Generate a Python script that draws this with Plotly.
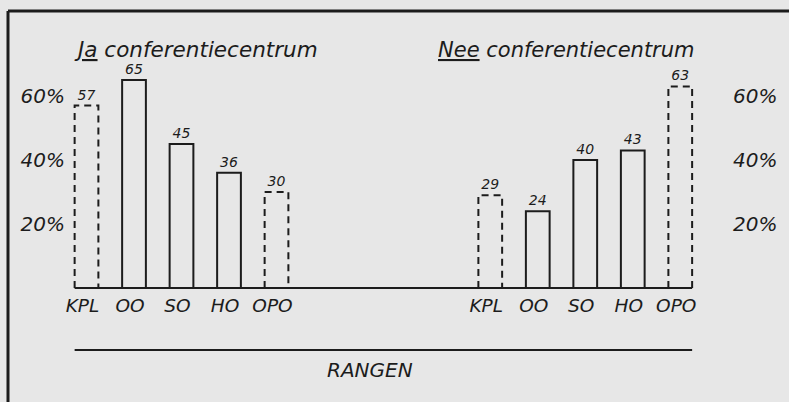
import plotly.graph_objects as go

# ---- data ----
categories = ["KPL", "OO", "SO", "HO", "OPO"]
ja_values = [57, 65, 45, 36, 30]
nee_values = [29, 24, 40, 43, 63]
dashed_categories = ["KPL", "OPO"]
y_tick_values = [20, 40, 60]
y_tick_labels = ["20%", "40%", "60%"]
title_ja = "<u>Ja</u> conferentiecentrum"
title_nee = "<u>Nee</u> conferentiecentrum"
x_title = "RANGEN"

# ---- layout helpers ----
W, H = 789, 402
INK = "#1c1c1c"
BG = "#e7e7e7"
FONT = "DejaVu Sans"
GAP = 3.5          # empty category slots between the two panels
BAR_W = 0.5

n = len(categories)
pos_ja = [i for i in range(n)]
pos_nee = [n + GAP + i for i in range(n)]
all_pos = pos_ja + pos_nee

# axis ranges chosen so the plot maps to the page pixels
px_per_unit_x = 47.5
x0_px = 86.5
x_range = [-x0_px / px_per_unit_x, (W - x0_px) / px_per_unit_x]
base_px = 288          # baseline, px from top
px_per_pct = 3.2
y_range = [-(H - base_px) / px_per_pct, base_px / px_per_pct]

fig = go.Figure()


def add_panel(positions, values, name):
    widths = [0 if c in dashed_categories else 2 for c in categories]
    fig.add_trace(go.Bar(
        x=positions, y=values, width=BAR_W, name=name,
        marker=dict(color="rgba(0,0,0,0)", line=dict(color=INK, width=widths)),
        text=[str(v) for v in values], textposition="outside",
        textfont=dict(family=FONT, size=14, color=INK, style="italic"),
        cliponaxis=False, showlegend=False,
    ))
    for c, p, v in zip(categories, positions, values):
        if c in dashed_categories:
            fig.add_trace(go.Scatter(
                x=[p - BAR_W / 2, p - BAR_W / 2, p + BAR_W / 2, p + BAR_W / 2],
                y=[0, v, v, 0], mode="lines",
                line=dict(color=INK, width=2, dash="7px,5px"),
                hoverinfo="skip", showlegend=False, cliponaxis=False,
            ))


add_panel(pos_ja, ja_values, "Ja")
add_panel(pos_nee, nee_values, "Nee")

# dummy trace for right-hand percentage axis
fig.add_trace(go.Scatter(x=[pos_ja[0]], y=[0], yaxis="y2", mode="markers",
                         marker=dict(opacity=0), hoverinfo="skip", showlegend=False))

left_edge = all_pos[0] - BAR_W / 2
right_edge = all_pos[-1] + BAR_W / 2

shapes = [
    # baseline
    dict(type="line", xref="x", yref="y", x0=left_edge, x1=right_edge, y0=0, y1=0,
         line=dict(color=INK, width=2)),
    # rule above axis title
    dict(type="line", xref="x", yref="paper", x0=left_edge, x1=right_edge,
         y0=1 - 350 / H, y1=1 - 350 / H, line=dict(color=INK, width=2)),
    # frame (left + top)
    dict(type="line", xref="paper", yref="paper", x0=8 / W, x1=8 / W, y0=0, y1=1 - 11 / H,
         line=dict(color=INK, width=3)),
    dict(type="line", xref="paper", yref="paper", x0=8 / W, x1=1, y0=1 - 11 / H, y1=1 - 11 / H,
         line=dict(color=INK, width=3)),
]

annotations = [
    dict(text=title_ja, xref="paper", yref="paper", x=72 / W, y=1 - 50 / H,
         xanchor="left", yanchor="middle", showarrow=False,
         font=dict(family=FONT, size=21.5, color=INK, style="italic")),
    dict(text=title_nee, xref="paper", yref="paper", x=436 / W, y=1 - 50 / H,
         xanchor="left", yanchor="middle", showarrow=False,
         font=dict(family=FONT, size=21, color=INK, style="italic")),
    dict(text=x_title, xref="paper", yref="paper", x=370 / W, y=1 - 370 / H,
         xanchor="center", yanchor="middle", showarrow=False,
         font=dict(family=FONT, size=20, color=INK, style="italic")),
]

tick_font = dict(family=FONT, size=20, color=INK, style="italic")

fig.update_layout(
    width=W, height=H,
    margin=dict(l=0, r=0, t=0, b=0),
    paper_bgcolor=BG, plot_bgcolor=BG,
    barmode="overlay",
    shapes=shapes, annotations=annotations,
    xaxis=dict(domain=[0, 1], range=x_range, tickmode="array",
               tickvals=all_pos, ticktext=categories + categories,
               tickfont=dict(family=FONT, size=18.5, color=INK, style="italic"),
               showgrid=False, zeroline=False, showline=False, ticks="",
               ticklabelshift=-4,
               anchor="free", position=1 - 292 / H, fixedrange=True),
    yaxis=dict(domain=[0, 1], range=y_range, tickmode="array",
               tickvals=y_tick_values, ticktext=y_tick_labels, tickfont=tick_font,
               showgrid=False, zeroline=False, showline=False, ticks="",
               anchor="free", position=65 / W, fixedrange=True),
    yaxis2=dict(range=y_range, overlaying="y", side="right", tickmode="array",
                tickvals=y_tick_values, ticktext=y_tick_labels, tickfont=tick_font,
                showgrid=False, zeroline=False, showline=False, ticks="",
                anchor="free", position=732 / W, fixedrange=True),
)

fig.write_html(
    "out.html",
    config={"displayModeBar": False},
    post_script="document.body.style.margin='0px';"
                "document.body.style.overflow='hidden';"
                "document.body.style.background='" + BG + "';",
)
